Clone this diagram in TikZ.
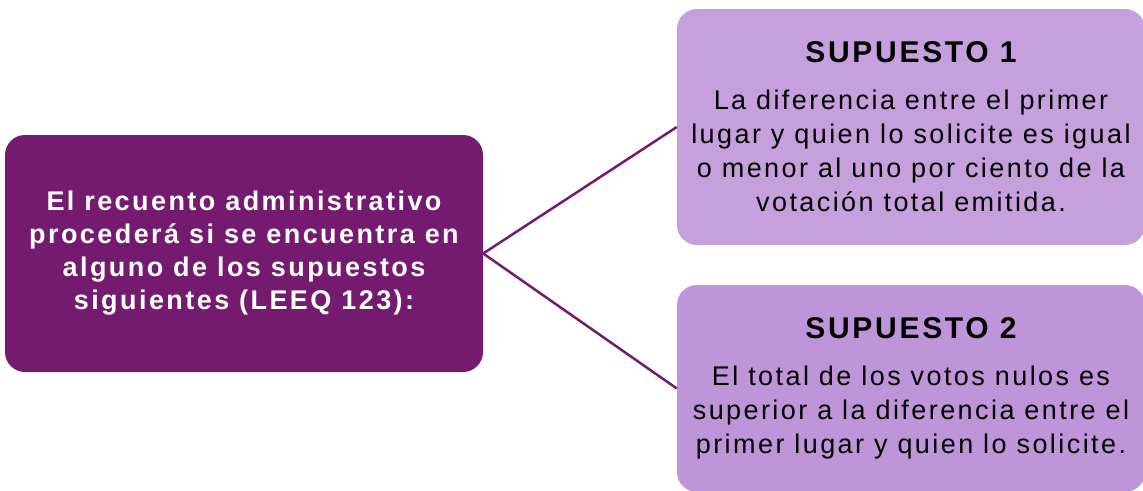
\documentclass[tikz,border=0pt]{standalone}
\usepackage{fontspec}
\setmainfont{Liberation Sans}
\newfontfamily\spaced[LetterSpace=9]{Liberation Sans}
\definecolor{darkp}{HTML}{741B6F}
\definecolor{lightA}{HTML}{C6A0DC}
\definecolor{lightB}{HTML}{BF95D9}
\begin{document}
\begin{tikzpicture}[x=1pt,y=-1pt,
  leftbox/.style={fill=darkp, rounded corners=20pt, minimum width=478pt, minimum height=237pt, inner sep=0pt,
    text=white, align=center, font=\spaced\bfseries\fontsize{27}{33}\selectfont},
  rightbox/.style={rounded corners=20pt, minimum width=468pt, inner sep=0pt,
    text=black, align=center, font=\spaced\fontsize{27}{34}\selectfont},
  conn/.style={draw=darkp, line width=2.5pt}]
\useasboundingbox (0,0) rectangle (1143,490);
\clip (0,0) rectangle (1143,490);
\node[leftbox] (L) at (244,253.5) {El recuento administrativo\\procederá si se encuentra en\\alguno de los supuestos\\siguientes (LEEQ 123):};
\node[rightbox, fill=lightA, minimum height=236pt] (A) at (911,127) {{\bfseries\fontsize{30}{34}\selectfont SUPUESTO 1}\\[13pt]La diferencia entre el primer\\lugar y quien lo solicite es igual\\o menor al uno por ciento de la\\votación total emitida.};
\node[rightbox, fill=lightB, minimum height=207pt] (B) at (911,388.5) {{\bfseries\fontsize{30}{34}\selectfont SUPUESTO 2}\\[13pt]El total de los votos nulos es\\superior a la diferencia entre el\\primer lugar y quien lo solicite.};
\draw[conn] (L.east) -- (A.west);
\draw[conn] (L.east) -- (B.west);
\end{tikzpicture}
\end{document}
